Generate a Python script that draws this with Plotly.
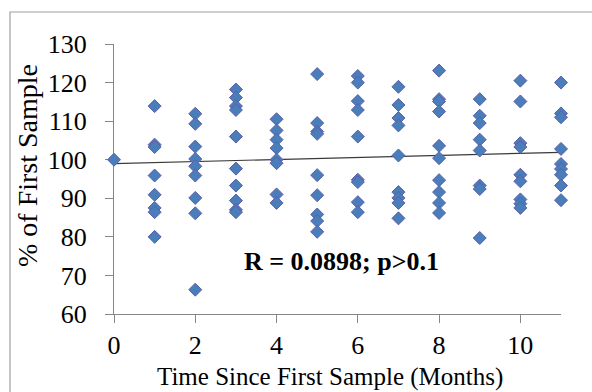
import plotly.graph_objects as go

# Data
time_months = (
    [0]
    + [1] * 8
    + [2] * 9
    + [3] * 10
    + [4] * 8
    + [5] * 9
    + [6] * 9
    + [7] * 9
    + [8] * 10
    + [9] * 8
    + [10] * 9
    + [11] * 9
)
percent_first = (
    [100.0]
    + [113.9, 103.9, 103.3, 95.9, 90.9, 87.5, 86.4, 80.0]
    + [111.9, 109.3, 103.4, 100.2, 98.3, 95.9, 90.1, 86.1, 66.3]
    + [118.2, 116.1, 113.9, 112.9, 106.0, 97.7, 93.3, 89.4, 87.0, 86.4]
    + [110.5, 107.6, 105.2, 103.0, 100.0, 99.1, 91.0, 88.8]
    + [122.2, 109.5, 107.3, 106.7, 96.0, 90.8, 85.8, 84.1, 81.3]
    + [121.7, 120.0, 115.2, 112.9, 106.0, 94.8, 94.2, 89.0, 86.4]
    + [118.9, 114.2, 110.8, 108.9, 101.1, 91.6, 90.1, 88.8, 84.8]
    + [123.1, 115.7, 115.1, 112.5, 103.6, 100.4, 94.7, 91.6, 88.8, 86.2]
    + [115.7, 111.4, 109.5, 105.2, 102.4, 93.3, 92.4, 79.7]
    + [120.5, 115.1, 104.3, 103.3, 96.1, 94.4, 89.7, 88.6, 87.5]
    + [120.0, 112.0, 111.0, 102.8, 98.9, 97.6, 96.1, 93.3, 89.5]
)
# Linear trend line (value at first and last month)
trend_months = [0, 11]
trend_values = [99.0, 101.9]

x_ticks = [0, 2, 4, 6, 8, 10]
y_ticks = [60, 70, 80, 90, 100, 110, 120, 130]
stat_label = "R = 0.0898; p>0.1"
x_title = "Time Since First Sample (Months)"
y_title = "% of First Sample"

FONT = "Liberation Serif, Times New Roman, serif"
AXIS_COLOR = "#868686"

fig = go.Figure()
fig.add_trace(go.Scatter(
    x=trend_months, y=trend_values, mode="lines",
    line=dict(color="#3a3a3a", width=1.2),
    hoverinfo="skip", showlegend=False, cliponaxis=False,
))
fig.add_trace(go.Scatter(
    x=time_months, y=percent_first, mode="markers",
    marker=dict(symbol="diamond", size=10, color="#4a7ebb",
                line=dict(color="#5b5fa8", width=1)),
    showlegend=False, cliponaxis=False,
))

fig.add_annotation(
    x=5.6, y=73.5, xref="x", yref="y", text="<b>" + stat_label + "</b>",
    showarrow=False, font=dict(family=FONT, size=26, color="black"),
)

# Axis titles placed as in the reference
fig.add_annotation(
    x=-0.1924, y=0.552, xref="paper", yref="paper", text=y_title,
    textangle=-90, showarrow=False, xanchor="center", yanchor="middle",
    font=dict(family=FONT, size=28, color="black"),
)
fig.add_annotation(
    x=0.483, y=-0.233, xref="paper", yref="paper", text=x_title,
    showarrow=False, xanchor="center", yanchor="middle",
    font=dict(family=FONT, size=25, color="black"),
)

# Outer chart border (only the top and left edges are visible in the picture)
fig.add_shape(
    type="rect", xref="paper", yref="paper",
    x0=-0.2327, y0=-0.5, x1=1.3, y1=1.1185,
    line=dict(color="#a0a0a0", width=1.2), fillcolor="rgba(0,0,0,0)",
    layer="below",
)

axis_common = dict(
    showline=True, linecolor=AXIS_COLOR, linewidth=1.2,
    ticks="outside", ticklen=8, tickcolor=AXIS_COLOR, tickwidth=1,
    showgrid=False, zeroline=False, layer="below traces", automargin=False,
    tickfont=dict(family=FONT, size=26, color="black"),
)

fig.update_layout(
    width=592, height=392,
    margin=dict(l=114, r=31, t=44, b=78),
    paper_bgcolor="white", plot_bgcolor="white",
    xaxis=dict(range=[0, 11], tickvals=x_ticks,
               ticklabelstandoff=0, **axis_common),
    yaxis=dict(range=[60, 130], tickvals=y_ticks,
               ticklabelstandoff=13, **axis_common),
)

fig.write_html("out.html")
